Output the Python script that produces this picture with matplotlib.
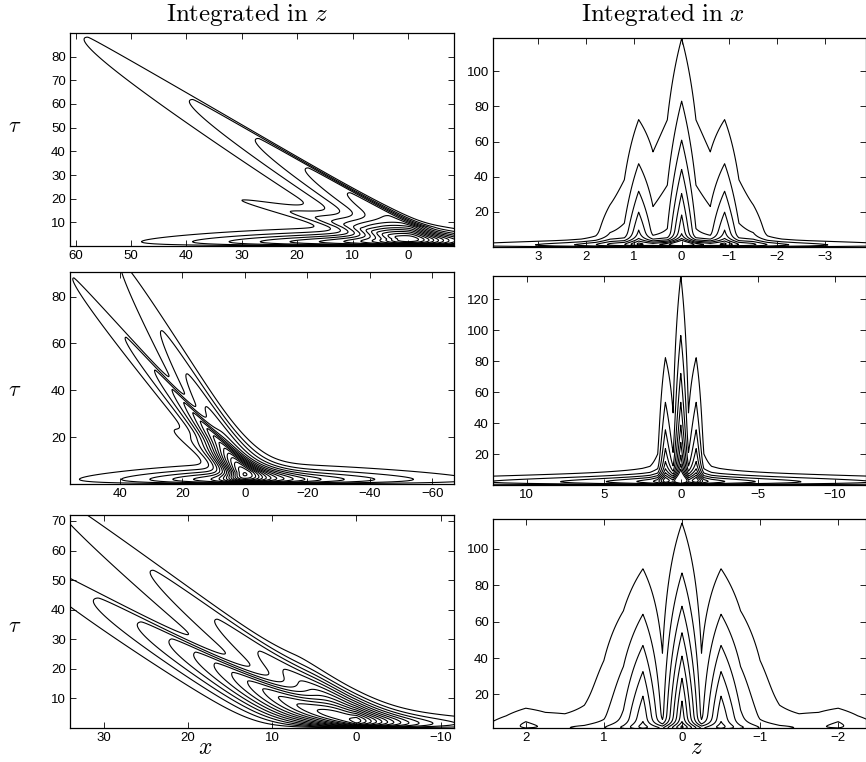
import matplotlib
matplotlib.use("Agg")
import matplotlib.pyplot as plt
import numpy as np

OUT_PNG = "out.png"
FIG_W, FIG_H = 866, 762
DPI = 100

LEFT_LEVELS = np.arange(1, 21)   # contour levels in field units
RIGHT_LEVELS = np.arange(1, 10)
LEFT_RISE = 4.0    # tau scale for the switch-on of every lobe
RIGHT_RISE = 2.0
NEAR_BOOST = 4.0   # extra width of the sharp side of a finger near tau=0
NEAR_TAU = 10.0

# ---------------- left column: (x, tau) fans ----------------
TL_XLIM = (61.0, -8.3)
TL_YLIM = (0.0, 90.0)
TL_XTICKS = [60, 50, 40, 30, 20, 10, 0]
TL_YTICKS = [10, 20, 30, 40, 50, 60, 70, 80]
TL_FING_SLOPE = [0.72, 1.8]
TL_FING_AMP = [7.4, 9.0]
TL_FING_T = [49.5, 10.1]
TL_FING_WLO = [6.0, 3.0]
TL_FING_WHI = [0.8, 2.5]
TL_FING_X0 = [0.0, 0.0]
TL_FING_T0 = [8.0, 3.0]
TL_BAND = [7.4, 34.0, 10.0, 2.0, 1.8]  # amp, l(x>0), l(x<0), power, tau0

ML_XLIM = (56.0, -67.0)
ML_YLIM = (0.0, 90.5)
ML_XTICKS = [40, 20, 0, -20, -40, -60]
ML_YTICKS = [20, 40, 60, 80]
ML_FING_SLOPE = [0.66, 0.44, 1.2]
ML_FING_AMP = [7.8, 6.9, 4.0]
ML_FING_T = [48.3, 54.8, 16.0]
ML_FING_WLO = [4.0, 4.0, 3.5]
ML_FING_WHI = [1.0, 2.5, 2.0]
ML_FING_X0 = [0.0, 0.0, 0.0]
ML_FING_T0 = [5.0, 5.0, 4.0]
ML_BAND = [7.0, 34.0, 46.5, 1.5, 2.0]

BL_XLIM = (34.0, -11.6)
BL_YLIM = (0.0, 72.0)
BL_XTICKS = [30, 20, 10, 0, -10]
BL_YTICKS = [10, 20, 30, 40, 50, 60, 70]
BL_FING_SLOPE = [0.46, 0.63, 0.3]
BL_FING_AMP = [6.1, 12.0, 8.0]
BL_FING_T = [48.7, 26.9, 12.0]
BL_FING_WLO = [3.5, 4.0, 2.5]
BL_FING_WHI = [1.2, 1.0, 1.0]
BL_FING_X0 = [1.0, 3.0, 0.5]
BL_FING_T0 = [3.0, 0.0, 2.0]
BL_BAND = [6.0, 2.0, 10.0, 1.0, 1.5]

# ---------------- right column: (z, tau) peaks ----------------
TR_XLIM = (3.95, -3.85)
TR_YLIM = (0.0, 119.0)
TR_XTICKS = [3, 2, 1, 0, -1, -2, -3]
TR_YTICKS = [20, 40, 60, 80, 100]
TR_DZ = 0.3
TR_PEAK_Z = [0.0, 0.9, -0.9, 1.5, -1.5]
TR_PEAK_AMP = [6.9, 5.3, 5.3, 1.8, 1.8]
TR_PEAK_T = [68.0, 44.5, 44.5, 20.0, 20.0]
TR_PEAK_WIN = [0.3, 0.3, 0.3, 0.3, 0.3]   # decay toward z=0
TR_PEAK_WOUT = [0.3, 0.3, 0.3, 0.3, 0.3]  # decay away from z=0
TR_POW = 1.2
TR_BAND = [8.0, 2.2, 1.0, 1.2]  # amp, lz, power, tau0

MR_XLIM = (12.2, -12.0)
MR_YLIM = (0.0, 135.0)
MR_XTICKS = [10, 5, 0, -5, -10]
MR_YTICKS = [20, 40, 60, 80, 100, 120]
MR_DZ = 0.5
MR_PEAK_Z = [0.0, 1.0, -1.0, 0.0]
MR_PEAK_AMP = [7.0, 4.8, 4.8, 3.0]
MR_PEAK_T = [80.5, 56.6, 56.6, 16.0]
MR_PEAK_WIN = [0.26, 0.26, 0.26, 2.5]
MR_PEAK_WOUT = [0.26, 0.26, 0.26, 2.5]
MR_POW = 1.3
MR_BAND = [5.6, 12.0, 1.0, 2.1]

BR_XLIM = (2.42, -2.35)
BR_YLIM = (1.5, 116.5)
BR_XTICKS = [2, 1, 0, -1, -2]
BR_YTICKS = [20, 40, 60, 80, 100]
BR_DZ = 0.25
BR_PEAK_Z = [0.0, 0.5, -0.5, 2.0, -2.0]
BR_PEAK_AMP = [7.6, 5.8, 5.8, 2.5, 2.5]
BR_PEAK_T = [71.0, 60.5, 60.5, 12.0, 12.0]
BR_PEAK_WIN = [0.12, 0.12, 0.12, 0.6, 0.6]
BR_PEAK_WOUT = [0.12, 0.4, 0.4, 0.6, 0.6]
BR_POW = 1.5
BR_BAND = [5.0, 1.0, 1.0, 1.2]


def band_profile(t, t0):
    return (t / t0) * np.exp(1.0 - t / t0)


def fan_field(x, t, slopes, amps, tscs, wlos, whis, x0s, t0s, band, pw=1.2):
    f = np.zeros_like(x)
    near = 1.0 + NEAR_BOOST * np.exp(-t / NEAR_TAU)
    for s, a, tsc, wlo, whi, x0, t0 in zip(slopes, amps, tscs, wlos, whis, x0s, t0s):
        c = x - x0 - s * np.clip(t - t0, 0, None)
        w = np.where(c > 0, wlo, whi * near)
        g = a * np.exp(-(t / tsc) ** pw) * (1 - np.exp(-t / LEFT_RISE))
        f += g * np.exp(-0.5 * (c / w) ** 2)
    amp, lpos, lneg, q, tb = band
    lx = np.where(x > 0, lpos, lneg)
    f += amp * np.exp(-(np.abs(x) / lx) ** q) * band_profile(t, tb)
    return f


def peak_field(z, t, zs, amps, tscs, wins, wouts, pw, band):
    f = np.zeros_like(z)
    for z0, a, tsc, win, wout in zip(zs, amps, tscs, wins, wouts):
        w = np.where((z - z0) * np.sign(z0) > 0, wout, win)
        f += (a * np.exp(-np.abs(z - z0) / w) * np.exp(-(t / tsc) ** pw)
              * (1 - np.exp(-t / RIGHT_RISE)))
    amp, lz, q, tb = band
    f += amp * np.exp(-(np.abs(z) / lz) ** q) * band_profile(t, tb)
    return f


def style_axes(ax, xlim, ylim, xticks, yticks):
    ax.set_xlim(*xlim)
    ax.set_ylim(*ylim)
    ax.set_xticks(xticks)
    ax.set_yticks(yticks)
    ax.tick_params(direction="in", top=True, right=True, length=4, width=0.6,
                   labelsize=9.5, pad=3)
    for sp in ax.spines.values():
        sp.set_linewidth(0.9)


def px_axes(fig, left, top, right, bottom):
    return fig.add_axes([left / FIG_W, 1 - bottom / FIG_H,
                         (right - left) / FIG_W, (bottom - top) / FIG_H])


def draw_left(ax, xlim, ylim, xticks, yticks, fing, band):
    x = np.linspace(min(xlim), max(xlim), 500)
    t = np.linspace(0.01, ylim[1], 400)
    X, T = np.meshgrid(x, t)
    F = fan_field(X, T, *fing, band)
    ax.contour(X, T, F, levels=LEFT_LEVELS, colors="k", linewidths=0.8)
    style_axes(ax, xlim, ylim, xticks, yticks)


def draw_right(ax, xlim, ylim, xticks, yticks, dz, peaks, pw, band):
    zmax = max(abs(xlim[0]), abs(xlim[1])) + dz
    n = int(round(zmax / dz))
    z = np.arange(-n, n + 1) * dz
    t = np.linspace(0.01, ylim[1], 400)
    Z, T = np.meshgrid(z, t)
    F = peak_field(Z, T, *peaks, pw, band)
    ax.contour(Z, T, F, levels=RIGHT_LEVELS, colors="k", linewidths=0.8)
    style_axes(ax, xlim, ylim, xticks, yticks)


def main():
    plt.rcParams["font.family"] = ["Liberation Sans", "DejaVu Sans"]
    plt.rcParams["mathtext.fontset"] = "cm"
    fig = plt.figure(figsize=(FIG_W / DPI, FIG_H / DPI), dpi=DPI)

    ax = px_axes(fig, 70, 33, 454, 246)
    draw_left(ax, TL_XLIM, TL_YLIM, TL_XTICKS, TL_YTICKS,
              (TL_FING_SLOPE, TL_FING_AMP, TL_FING_T, TL_FING_WLO, TL_FING_WHI,
               TL_FING_X0, TL_FING_T0), TL_BAND)
    ax = px_axes(fig, 70, 272, 454, 484)
    draw_left(ax, ML_XLIM, ML_YLIM, ML_XTICKS, ML_YTICKS,
              (ML_FING_SLOPE, ML_FING_AMP, ML_FING_T, ML_FING_WLO, ML_FING_WHI,
               ML_FING_X0, ML_FING_T0), ML_BAND)
    ax = px_axes(fig, 70, 515, 454, 728)
    draw_left(ax, BL_XLIM, BL_YLIM, BL_XTICKS, BL_YTICKS,
              (BL_FING_SLOPE, BL_FING_AMP, BL_FING_T, BL_FING_WLO, BL_FING_WHI,
               BL_FING_X0, BL_FING_T0), BL_BAND)

    ax = px_axes(fig, 493, 38, 865.5, 247)
    draw_right(ax, TR_XLIM, TR_YLIM, TR_XTICKS, TR_YTICKS, TR_DZ,
               (TR_PEAK_Z, TR_PEAK_AMP, TR_PEAK_T, TR_PEAK_WIN, TR_PEAK_WOUT),
               TR_POW, TR_BAND)
    ax = px_axes(fig, 493, 276, 865.5, 485)
    draw_right(ax, MR_XLIM, MR_YLIM, MR_XTICKS, MR_YTICKS, MR_DZ,
               (MR_PEAK_Z, MR_PEAK_AMP, MR_PEAK_T, MR_PEAK_WIN, MR_PEAK_WOUT),
               MR_POW, MR_BAND)
    ax = px_axes(fig, 493, 519, 865.5, 728)
    draw_right(ax, BR_XLIM, BR_YLIM, BR_XTICKS, BR_YTICKS, BR_DZ,
               (BR_PEAK_Z, BR_PEAK_AMP, BR_PEAK_T, BR_PEAK_WIN, BR_PEAK_WOUT),
               BR_POW, BR_BAND)

    fig.text(247 / FIG_W, 1 - 15 / FIG_H, r"$\mathrm{Integrated\ in}\ z$",
             ha="center", va="center", fontsize=18)
    fig.text(663 / FIG_W, 1 - 15 / FIG_H, r"$\mathrm{Integrated\ in}\ x$",
             ha="center", va="center", fontsize=18)
    for yc in (127, 390, 627):
        fig.text(15 / FIG_W, 1 - yc / FIG_H, r"$\tau$", ha="center", va="center",
                 fontsize=16)
    fig.text(205 / FIG_W, 1 - 748 / FIG_H, r"$x$", ha="center", va="center", fontsize=17)
    fig.text(697 / FIG_W, 1 - 748 / FIG_H, r"$z$", ha="center", va="center", fontsize=17)

    fig.savefig(OUT_PNG, dpi=DPI)
    plt.close(fig)


if __name__ == "__main__":
    main()
